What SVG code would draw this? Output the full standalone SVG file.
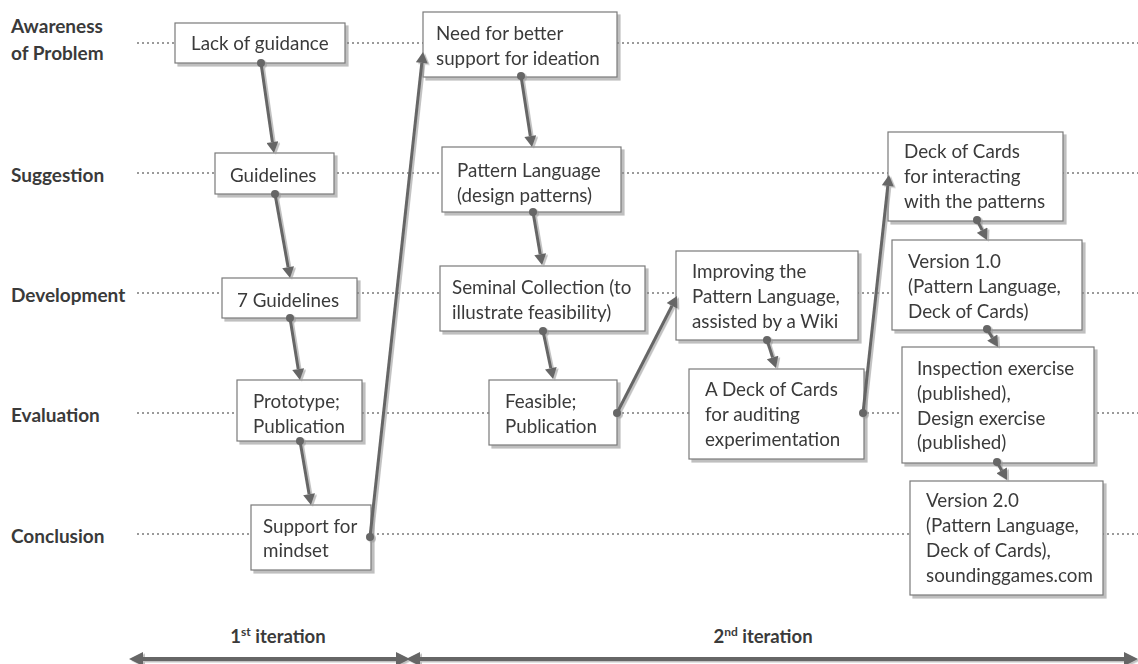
<svg xmlns="http://www.w3.org/2000/svg" width="1138" height="664" viewBox="0 0 1138 664">
<style>
.row{font-family:Lato,"Liberation Sans",sans-serif;font-weight:bold;font-size:19px;fill:#3a3a3a}
.box{fill:#fff;stroke:#7a7a7a;stroke-width:1.2}
.t{font-family:Lato,"Liberation Sans",sans-serif;font-size:18.8px;fill:#3a3a3a}
.dot{stroke:#9a9a9a;stroke-width:2;stroke-dasharray:2 3;fill:none}
.con{stroke:#666;stroke-width:3;fill:none;marker-start:url(#dotm);marker-end:url(#arr)}
.it{font-family:Lato,"Liberation Sans",sans-serif;font-weight:bold;font-size:18.5px;fill:#3a3a3a}
.bar{stroke:#666;stroke-width:4;fill:none}
</style>
<defs>
<filter id="sh" x="-10%" y="-10%" width="130%" height="130%">
<feDropShadow dx="3" dy="3" stdDeviation="0.6" flood-color="#8a8a8a" flood-opacity="0.55"/>
</filter>
<filter id="shl" filterUnits="userSpaceOnUse" x="0" y="0" width="1138" height="664">
<feDropShadow dx="2" dy="1.5" stdDeviation="0.6" flood-color="#999" flood-opacity="0.6"/>
</filter>
<marker id="arr" markerUnits="userSpaceOnUse" markerWidth="12" markerHeight="12" viewBox="0 0 11 12" refX="0" refY="6" orient="auto">
<path d="M0,0 L11,6 L0,12 z" fill="#666"/>
</marker>
<marker id="dotm" markerUnits="userSpaceOnUse" markerWidth="9" markerHeight="9" viewBox="0 0 9 9" refX="4.5" refY="4.5">
<circle cx="4.5" cy="4.5" r="4" fill="#666"/>
</marker>
<marker id="barL" markerUnits="userSpaceOnUse" markerWidth="14" markerHeight="14" viewBox="0 0 14 14" refX="0" refY="7" orient="auto-start-reverse">
<path d="M0,0 L14,7 L0,14 z" fill="#666"/>
</marker>
</defs>
<rect width="1138" height="664" fill="#fff"/>
<g id="rows">
<text class="row" x="11" y="33">Awareness</text>
<text class="row" x="11" y="60">of Problem</text>
<text class="row" x="11" y="182">Suggestion</text>
<text class="row" x="11" y="302">Development</text>
<text class="row" x="11" y="422">Evaluation</text>
<text class="row" x="11" y="543">Conclusion</text>
</g>
<g id="gridlines">
<line class="dot" x1="137" y1="43" x2="1138" y2="43"/>
<line class="dot" x1="137" y1="173" x2="1138" y2="173"/>
<line class="dot" x1="137" y1="293" x2="1138" y2="293"/>
<line class="dot" x1="137" y1="413" x2="1138" y2="413"/>
<line class="dot" x1="137" y1="534" x2="1138" y2="534"/>
</g>
<g id="n1" filter="url(#sh)"><rect class="box" x="175" y="23" width="170" height="40"/><text class="t" x="191" y="50">Lack of guidance</text></g>
<g id="n2" filter="url(#sh)"><rect class="box" x="215" y="153" width="119" height="41"/><text class="t" x="230" y="182">Guidelines</text></g>
<g id="n3" filter="url(#sh)"><rect class="box" x="222" y="278" width="135" height="40"/><text class="t" x="237" y="307">7 Guidelines</text></g>
<g id="n4" filter="url(#sh)"><rect class="box" x="237" y="380" width="125" height="61"/><text class="t" x="253" y="408">Prototype;</text><text class="t" x="253" y="433">Publication</text></g>
<g id="n5" filter="url(#sh)"><rect class="box" x="251" y="505" width="120" height="65"/><text class="t" x="263" y="533">Support for</text><text class="t" x="263" y="557">mindset</text></g>
<g id="n6" filter="url(#sh)"><rect class="box" x="423" y="12" width="194" height="65"/><text class="t" x="436" y="40">Need for better</text><text class="t" x="436" y="65">support for ideation</text></g>
<g id="n7" filter="url(#sh)"><rect class="box" x="442" y="147" width="179" height="65"/><text class="t" x="457" y="177">Pattern Language</text><text class="t" x="457" y="202">(design patterns)</text></g>
<g id="n8" filter="url(#sh)"><rect class="box" x="440" y="266" width="205" height="65"/><text class="t" x="452" y="294">Seminal Collection (to</text><text class="t" x="452" y="319">illustrate feasibility)</text></g>
<g id="n9" filter="url(#sh)"><rect class="box" x="489" y="380" width="128" height="65"/><text class="t" x="505" y="408">Feasible;</text><text class="t" x="505" y="433">Publication</text></g>
<g id="n10" filter="url(#sh)"><rect class="box" x="676" y="251" width="182" height="89"/><text class="t" x="692" y="278">Improving the</text><text class="t" x="692" y="303">Pattern Language,</text><text class="t" x="692" y="328">assisted by a Wiki</text></g>
<g id="n11" filter="url(#sh)"><rect class="box" x="689" y="369" width="175" height="90"/><text class="t" x="705" y="396">A Deck of Cards</text><text class="t" x="705" y="421">for auditing</text><text class="t" x="705" y="446">experimentation</text></g>
<g id="n12" filter="url(#sh)"><rect class="box" x="888" y="132" width="175" height="89"/><text class="t" x="904" y="158">Deck of Cards</text><text class="t" x="904" y="183">for interacting</text><text class="t" x="904" y="208">with the patterns</text></g>
<g id="n13" filter="url(#sh)"><rect class="box" x="892" y="240" width="190" height="90"/><text class="t" x="908" y="268">Version 1.0</text><text class="t" x="908" y="293">(Pattern Language,</text><text class="t" x="908" y="318">Deck of Cards)</text></g>
<g id="n14" filter="url(#sh)"><rect class="box" x="902" y="347" width="192" height="116"/><text class="t" x="917" y="375">Inspection exercise</text><text class="t" x="917" y="400">(published),</text><text class="t" x="917" y="425">Design exercise</text><text class="t" x="917" y="449">(published)</text></g>
<g id="n15" filter="url(#sh)"><rect class="box" x="910" y="481" width="193" height="114"/><text class="t" x="926" y="507">Version 2.0</text><text class="t" x="926" y="532">(Pattern Language,</text><text class="t" x="926" y="557">Deck of Cards),</text><text class="t" x="926" y="582">soundinggames.com</text></g>
<g id="connectors" filter="url(#shl)">
<line class="con" x1="261" y1="63" x2="272.4" y2="142.1"/>
<line class="con" x1="275" y1="194" x2="288.1" y2="267.2"/>
<line class="con" x1="290" y1="318" x2="298.2" y2="369.1"/>
<line class="con" x1="300" y1="441" x2="309.1" y2="494.2"/>
<line class="con" x1="370" y1="537" x2="421.8" y2="62.9"/>
<line class="con" x1="521" y1="76" x2="530.3" y2="136.1"/>
<line class="con" x1="533" y1="212" x2="540.2" y2="254.2"/>
<line class="con" x1="543" y1="331" x2="550.8" y2="368.2"/>
<line class="con" x1="617" y1="413" x2="672" y2="305.8"/>
<line class="con" x1="767" y1="340" x2="772.6" y2="357.5"/>
<line class="con" x1="863" y1="413" x2="887.8" y2="185.9"/>
<line class="con" x1="977" y1="220" x2="982.1" y2="230.2"/>
<line class="con" x1="987" y1="329" x2="992.3" y2="337.6"/>
<line class="con" x1="997" y1="462" x2="1001.7" y2="470.4"/>
</g>
<g id="iterations">
<text class="it" x="278" y="643" text-anchor="middle">1<tspan font-size="12" dy="-7">st</tspan><tspan dy="7"> iteration</tspan></text>
<text class="it" x="763" y="643" text-anchor="middle">2<tspan font-size="12" dy="-7">nd</tspan><tspan dy="7"> iteration</tspan></text>
<g filter="url(#shl)">
<line class="bar" x1="143" y1="659" x2="396" y2="659" marker-start="url(#barL)" marker-end="url(#barL)"/>
<line class="bar" x1="420" y1="659" x2="1124" y2="659" marker-start="url(#barL)" marker-end="url(#barL)"/>
</g>
</g>
</svg>
